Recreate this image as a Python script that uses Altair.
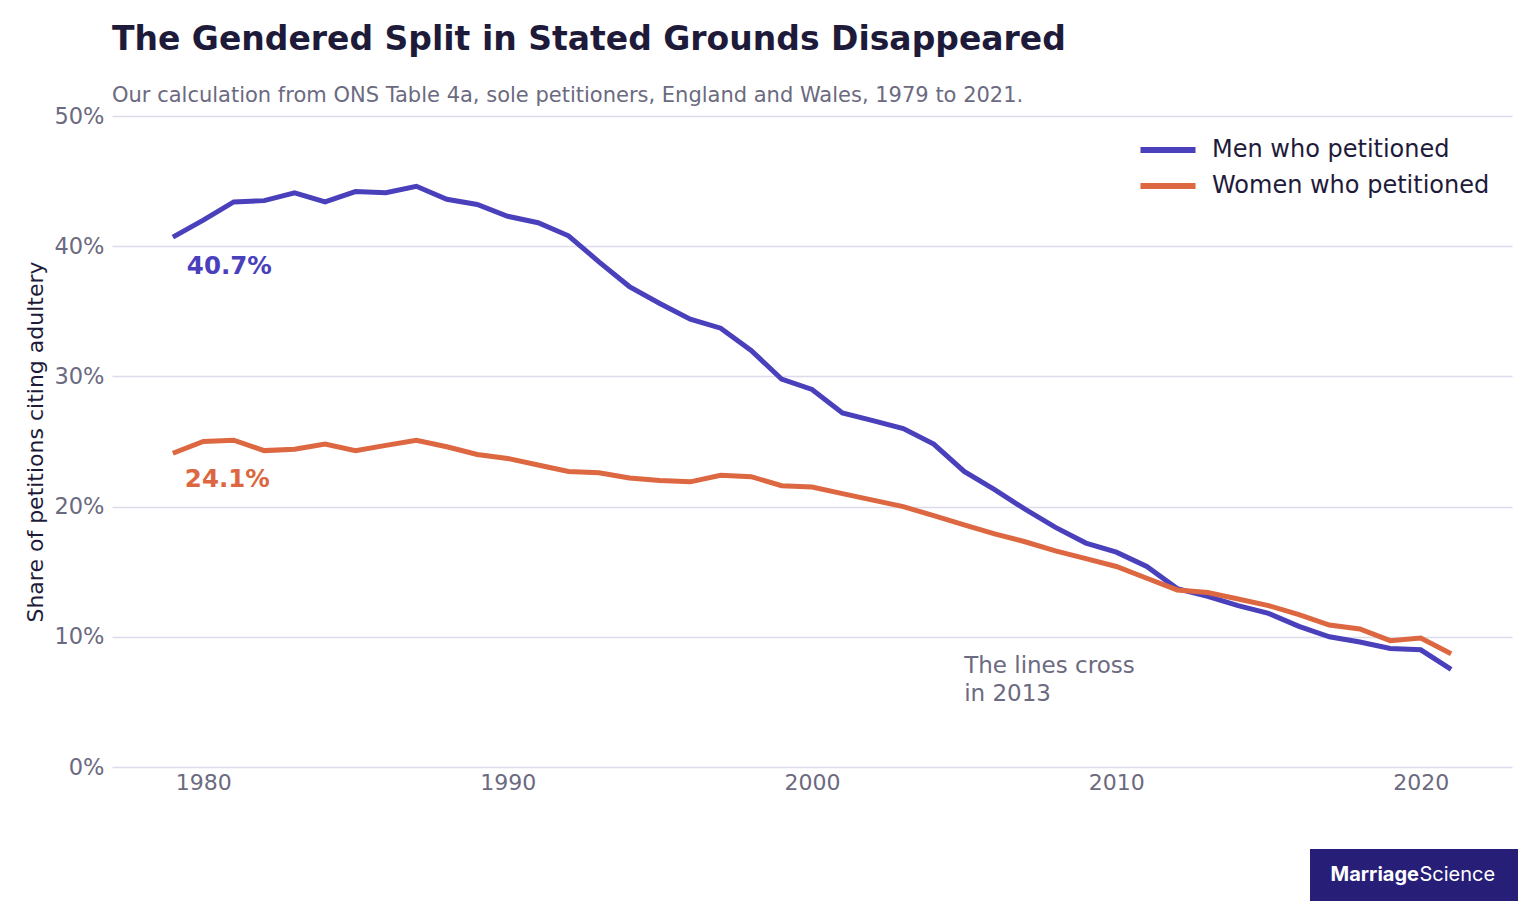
import altair as alt
import pandas as pd

# ---------------- data ----------------
years = [1979, 1980, 1981, 1982, 1983, 1984, 1985, 1986, 1987, 1988,
         1989, 1990, 1991, 1992, 1993, 1994, 1995, 1996, 1997, 1998,
         1999, 2000, 2001, 2002, 2003, 2004, 2005, 2006, 2007, 2008,
         2009, 2010, 2011, 2012, 2013, 2014, 2015, 2016, 2017, 2018,
         2019, 2020, 2021]
men = [40.7, 42.0, 43.4, 43.5, 44.1, 43.4, 44.2, 44.1, 44.6, 43.6,
       43.2, 42.3, 41.8, 40.8, 38.8, 36.9, 35.6, 34.4, 33.7, 32.0,
       29.8, 29.0, 27.2, 26.6, 26.0, 24.8, 22.7, 21.3, 19.8, 18.4,
       17.2, 16.5, 15.4, 13.7, 13.1, 12.4, 11.8, 10.8, 10.0, 9.6,
       9.1, 9.0, 7.5]
women = [24.1, 25.0, 25.1, 24.3, 24.4, 24.8, 24.3, 24.7, 25.1, 24.6,
         24.0, 23.7, 23.2, 22.7, 22.6, 22.2, 22.0, 21.9, 22.4, 22.3,
         21.6, 21.5, 21.0, 20.5, 20.0, 19.3, 18.6, 17.9, 17.3, 16.6,
         16.0, 15.4, 14.5, 13.6, 13.4, 12.9, 12.4, 11.7, 10.9, 10.6,
         9.7, 9.9, 8.7]
series = ["Men who petitioned", "Women who petitioned"]
x_ticks = [1980, 1990, 2000, 2010, 2020]
y_ticks = [0, 10, 20, 30, 40, 50]
note_text = "The lines cross\nin 2013"
note_year = [2005]
note_share = [7.2]
brand = ["Marriage", "Science"]

# ---------------- styles ----------------
MEN_C = "#4a40bc"
WOMEN_C = "#dc6740"
DARK = "#1e1b3a"
GRAY = "#6b6a80"
GRID = "#dddbeb"
LOGO_BG = "#271e78"
FONT = "DejaVu Sans"
W, H = 1400, 651

df = pd.DataFrame({
    "year": years + years,
    "share": men + women,
    "series": [series[0]] * len(years) + [series[1]] * len(years),
})

x_enc = alt.X(
    "year:Q",
    scale=alt.Scale(domain=[1977, 2023], nice=False, zero=False),
    axis=alt.Axis(values=x_ticks, format="d", grid=False, ticks=False,
                  domain=False, labelFontSize=22, labelColor=GRAY,
                  labelPadding=5, title=None, labelFont=FONT),
)
y_enc = alt.Y(
    "share:Q",
    scale=alt.Scale(domain=[0, 50], nice=False),
    axis=alt.Axis(values=y_ticks, labelExpr="datum.value + '%'", grid=True,
                  gridColor=GRID, gridWidth=1.5, ticks=False, domain=False,
                  labelFontSize=22.5, labelColor=GRAY, labelPadding=8,
                  labelFont=FONT,
                  title="Share of petitions citing adultery",
                  titleFontSize=22, titleColor=DARK, titleFontWeight="normal",
                  titleFont=FONT, titleX=-77, titleY=H / 2,
                  titleBaseline="middle", titleAlign="center"),
)

lines = alt.Chart(df).mark_line(strokeWidth=5, strokeCap="butt").encode(
    x=x_enc,
    y=y_enc,
    color=alt.Color(
        "series:N",
        scale=alt.Scale(domain=series, range=[MEN_C, WOMEN_C]),
        legend=alt.Legend(
            title=None, orient="none", legendX=1043, legendY=21,
            symbolType="M-2.75,0H2.75", symbolSize=400,
            symbolStrokeWidth=6, labelFontSize=24, labelColor=DARK,
            labelFont=FONT, labelOffset=31, rowPadding=11, labelLimit=500,
        ),
    ),
)

men_df = pd.DataFrame({"year": [years[0]], "share": [men[0]],
                       "label": [f"{men[0]:.1f}%"]})
women_df = pd.DataFrame({"year": [years[0]], "share": [women[0]],
                         "label": [f"{women[0]:.1f}%"]})

men_lbl = alt.Chart(men_df).mark_text(
    align="left", baseline="middle", fontWeight="bold", fontSize=24.5,
    font=FONT, color=MEN_C, dx=14, dy=30,
).encode(x="year:Q", y="share:Q", text="label:N")

women_lbl = alt.Chart(women_df).mark_text(
    align="left", baseline="middle", fontWeight="bold", fontSize=24.5,
    font=FONT, color=WOMEN_C, dx=12, dy=27,
).encode(x="year:Q", y="share:Q", text="label:N")

note_df = pd.DataFrame({"year": note_year, "share": note_share,
                        "label": [note_text]})
note = alt.Chart(note_df).mark_text(
    align="left", baseline="alphabetic", fontSize=23, font=FONT,
    color=GRAY, lineBreak="\n", lineHeight=28,
).encode(x="year:Q", y="share:Q", text="label:N")

logo_df = pd.DataFrame({"a": brand[:1]})
logo_box = alt.Chart(logo_df).mark_rect(color=LOGO_BG).encode(
    x=alt.value(1198), x2=alt.value(1406),
    y=alt.value(733), y2=alt.value(785),
)
logo_a = alt.Chart(logo_df).mark_text(
    align="right", baseline="middle", fontSize=20, font="Inter",
    fontWeight="bold", color="white",
).encode(x=alt.value(1307), y=alt.value(759), text=alt.value(brand[0]))
logo_b = alt.Chart(logo_df).mark_text(
    align="left", baseline="middle", fontSize=20, font="Inter",
    fontWeight="normal", color="white",
).encode(x=alt.value(1307.5), y=alt.value(759), text=alt.value(brand[1]))

chart = alt.layer(lines, men_lbl, women_lbl, note, logo_box, logo_a, logo_b).properties(
    width=W,
    height=H,
    background="white",
    title=alt.TitleParams(
        text="The Gendered Split in Stated Grounds Disappeared",
        subtitle="Our calculation from ONS Table 4a, sole petitioners, England and Wales, 1979 to 2021.",
        anchor="start", frame="group", fontSize=33, fontWeight="bold",
        color=DARK, font=FONT, subtitleFont=FONT, subtitleFontSize=21,
        subtitleColor=GRAY, offset=-1, subtitlePadding=28,
    ),
    autosize=alt.AutoSizeParams(type="none"),
    padding={"left": 104, "top": 108, "right": 10, "bottom": 135},
).configure_view(strokeWidth=0, stroke="transparent")

chart.save("out.html", embed_options={"renderer": "svg", "actions": False})
